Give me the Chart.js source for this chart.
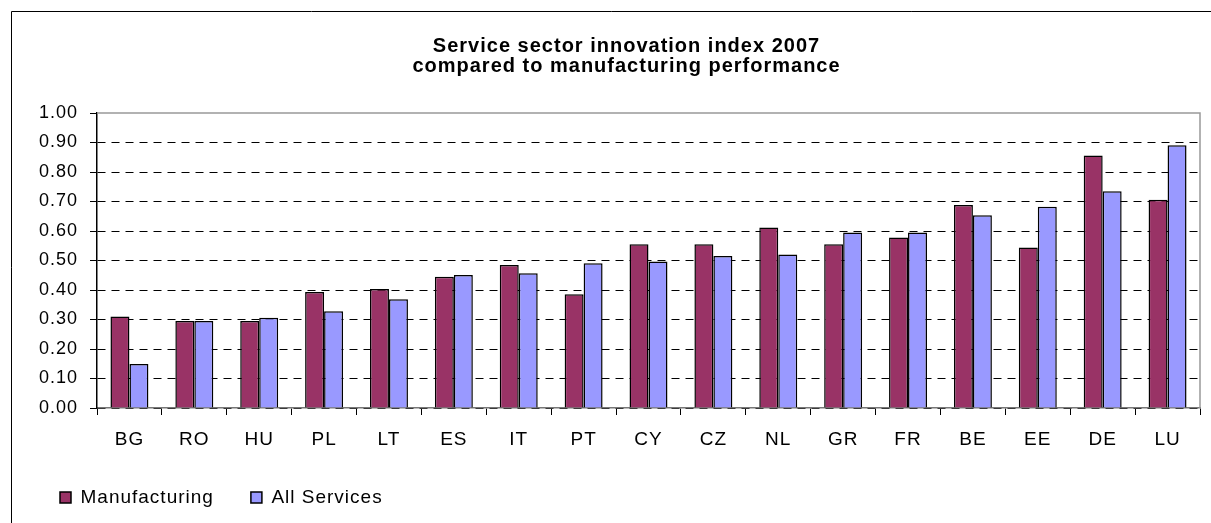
<!DOCTYPE html>
<html>
<head>
<meta charset="utf-8">
<script src="https://cdn.jsdelivr.net/npm/chart.js@4/dist/chart.umd.min.js"></script>
<style>
  html, body { margin: 0; padding: 0; background: #fff; }
  #wrap { width: 1211px; height: 523px; }
</style>
</head>
<body>
<div id="wrap"><canvas id="innovacionChart"></canvas></div>
<script>
// Datos
const paises = ['BG', 'RO', 'HU', 'PL', 'LT', 'ES', 'IT', 'PT', 'CY', 'CZ', 'NL', 'GR', 'FR', 'BE', 'EE', 'DE', 'LU'];
const manufactura = [0.31, 0.295, 0.295, 0.393, 0.403, 0.445, 0.485, 0.386, 0.555, 0.555, 0.612, 0.555, 0.578, 0.688, 0.544, 0.856, 0.706];
const servicios = [0.149, 0.295, 0.306, 0.328, 0.369, 0.451, 0.457, 0.491, 0.497, 0.515, 0.520, 0.595, 0.595, 0.653, 0.682, 0.735, 0.891];
const titulo = ['Service sector innovation index 2007', 'compared to manufacturing performance'];

const fuente = "'Liberation Sans', Arial, sans-serif";

// Texto un poco mas espaciado, como el original de Excel
const espaciado = {
  id: 'espaciado',
  beforeUpdate(chart) { chart.ctx.letterSpacing = '1px'; },
  beforeDraw(chart) { chart.ctx.letterSpacing = '1px'; },
  afterLayout(chart) {
    // el titulo original va centrado algo a la derecha
    if (chart.titleBlock) chart.titleBlock.left += 30;
  }
};

// Marco exterior y borde gris del area de trazado
const marcos = {
  id: 'marcos',
  beforeDraw(chart) {
    const ctx = chart.ctx;
    ctx.save();
    ctx.strokeStyle = '#000';
    ctx.lineWidth = 1;
    ctx.beginPath();
    ctx.moveTo(11.5, chart.height);
    ctx.lineTo(11.5, 11.5);
    ctx.lineTo(chart.width, 11.5);
    ctx.stroke();
    ctx.restore();
  },
  beforeDatasetsDraw(chart) {
    const a = chart.chartArea;
    const ctx = chart.ctx;
    ctx.save();
    ctx.strokeStyle = '#999';
    ctx.lineWidth = 1.5;
    ctx.beginPath();
    ctx.moveTo(a.left, a.top);
    ctx.lineTo(a.right, a.top);
    ctx.lineTo(a.right, a.bottom);
    ctx.stroke();
    ctx.restore();
  }
};

const ctx = document.getElementById('innovacionChart').getContext('2d');
window.innovacionChart = new Chart(ctx, {
  type: 'bar',
  data: {
    labels: paises,
    datasets: [
      { label: 'Manufacturing', data: manufactura, backgroundColor: '#993366', borderColor: '#000', borderWidth: 1.5 },
      { label: 'All Services', data: servicios, backgroundColor: '#9999FF', borderColor: '#000', borderWidth: 1.5 }
    ]
  },
  options: {
    responsive: true,
    maintainAspectRatio: false,
    animation: false,
    categoryPercentage: 0.585,
    barPercentage: 1,
    layout: { padding: { left: 23, right: 11, top: 11, bottom: 6 } },
    plugins: {
      title: {
        display: true,
        text: titulo,
        color: '#000',
        font: { family: fuente, size: 20, weight: 'bold', lineHeight: 1.0 },
        padding: { top: 25, bottom: 37 }
      },
      legend: {
        position: 'bottom',
        align: 'start',
        labels: {
          color: '#000',
          boxWidth: 11,
          boxHeight: 11,
          padding: 37,
          font: { family: fuente, size: 19 }
        }
      },
      tooltip: { enabled: false }
    },
    scales: {
      x: {
        offset: true,
        grid: { offset: true, drawOnChartArea: false, tickLength: 7, tickColor: '#000', color: '#000' },
        border: { color: '#777', width: 1.5 },
        ticks: { color: '#000', padding: 13, maxRotation: 0, font: { family: fuente, size: 19 } },
        afterFit: (s) => { s.height = 43; }
      },
      y: {
        min: 0,
        max: 1,
        grid: {
          color: (c) => (c.tick && c.tick.value >= 1) ? 'rgba(0,0,0,0)' : '#000',
          tickColor: '#000',
          tickLength: 7,
          lineWidth: 1
        },
        border: { color: '#000', width: 1.5, dash: [8, 6] },
        ticks: {
          stepSize: 0.1,
          color: '#000',
          padding: 12,
          font: { family: fuente, size: 18 },
          callback: (v) => Number(v).toFixed(2)
        },
        afterFit: (s) => { s.width = 74; }
      }
    }
  },
  plugins: [espaciado, marcos]
});
</script>
</body>
</html>
